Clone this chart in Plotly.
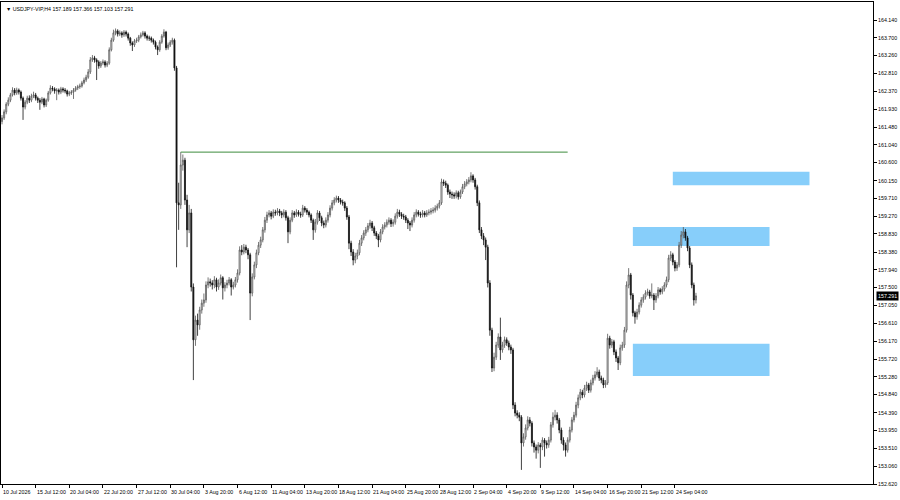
import plotly.graph_objects as go

# ---------------- data (USDJPY-VIP, H4) ----------------
opens = [
161.62,161.71,161.86,162.05,162.15,162.28,162.40,162.33,162.40,162.35,
162.20,161.98,162.10,162.20,162.15,162.25,162.28,162.20,162.15,162.10,
162.18,162.03,162.15,162.33,162.45,162.43,162.38,162.40,162.35,162.43,
162.40,162.38,162.30,162.33,162.35,162.40,162.45,162.48,162.50,162.58,
162.65,162.72,162.85,163.15,163.20,163.15,163.10,163.00,163.07,163.10,
163.02,163.07,163.40,163.64,163.82,163.87,163.79,163.82,163.77,163.84,
163.79,163.69,163.57,163.52,163.62,163.64,163.72,163.77,163.82,163.74,
163.69,163.69,163.64,163.59,163.47,163.40,163.59,163.74,163.84,163.45,
163.52,163.59,163.64,162.95,159.60,159.55,160.54,160.66,159.67,158.93,
159.35,157.51,156.20,156.69,156.57,156.94,157.11,157.19,157.56,157.64,
157.61,157.56,157.69,157.51,157.61,157.74,157.49,157.56,157.61,157.69,
157.51,157.56,157.69,157.86,158.43,158.38,158.50,158.43,158.31,157.36,
157.76,158.06,158.36,158.55,158.68,158.93,159.17,159.30,159.35,159.27,
159.37,159.35,159.40,159.35,159.30,159.37,159.23,158.88,159.17,159.35,
159.30,159.37,159.32,159.30,159.47,159.42,159.37,159.30,159.17,158.93,
159.12,159.35,159.23,159.10,159.05,159.17,159.30,159.47,159.60,159.67,
159.72,159.67,159.62,159.60,159.47,159.25,158.60,158.38,158.18,158.28,
158.36,158.60,158.73,158.85,158.93,159.03,159.10,158.98,158.85,158.78,
158.68,158.88,159.00,159.05,159.12,159.17,159.08,159.12,159.27,159.37,
159.32,159.27,159.25,159.17,159.10,159.05,159.17,159.30,159.37,159.32,
159.30,159.35,159.30,159.35,159.37,159.40,159.42,159.47,159.52,159.60,
160.12,160.09,160.04,159.87,159.82,159.80,159.77,159.85,159.75,159.87,
160.00,160.07,160.12,160.17,160.27,160.17,160.00,159.60,158.93,158.78,
158.68,158.50,157.61,156.44,155.50,155.77,156.07,156.27,155.95,156.07,
156.20,156.12,156.02,155.95,154.58,154.38,154.33,154.28,153.64,153.79,
154.01,154.21,154.13,153.64,153.54,153.46,153.59,153.54,153.71,153.64,
153.59,153.71,154.09,154.28,154.33,154.21,153.96,153.71,153.59,153.46,
153.71,153.96,154.21,154.33,154.58,154.76,154.90,154.83,155.00,155.08,
154.95,155.13,155.25,155.33,155.40,155.25,155.20,155.08,155.13,156.24,
156.07,156.15,155.90,155.75,155.63,156.00,156.07,156.44,157.56,157.81,
157.31,156.87,156.77,156.89,157.06,157.19,157.26,157.36,157.39,157.29,
157.31,157.19,157.29,157.44,157.39,157.46,157.56,157.69,158.23,158.31,
158.13,157.98,158.06,158.55,158.80,158.88,158.73,158.48,158.06,157.56,
157.189]

highs = [
161.78,161.92,162.10,162.22,162.33,162.47,162.45,162.46,162.44,162.39,
162.24,162.15,162.26,162.27,162.31,162.36,162.33,162.24,162.20,162.23,
162.21,162.19,162.38,162.52,162.50,162.47,162.45,162.44,162.48,162.47,
162.45,162.41,162.38,162.40,162.45,162.50,162.53,162.56,162.63,162.71,
162.78,162.92,163.22,163.27,163.25,163.19,163.14,163.12,163.16,163.14,
163.12,163.46,163.70,163.90,163.93,163.91,163.88,163.86,163.89,163.88,
163.83,163.72,163.61,163.67,163.70,163.77,163.83,163.87,163.86,163.78,
163.75,163.73,163.68,163.63,163.51,163.64,163.79,163.91,163.87,163.58,
163.64,163.70,163.68,163.00,160.10,160.86,160.80,160.72,159.80,159.55,
159.45,157.60,156.80,156.85,157.02,157.20,157.35,157.65,157.75,157.72,
157.68,157.78,157.74,157.70,157.82,157.78,157.63,157.69,157.76,157.73,
157.64,157.76,157.95,158.52,158.55,158.58,158.56,158.48,158.36,157.85,
158.14,158.44,158.63,158.76,159.00,159.25,159.38,159.42,159.40,159.44,
159.43,159.47,159.45,159.40,159.44,159.42,159.28,159.24,159.42,159.40,
159.44,159.42,159.38,159.55,159.52,159.47,159.41,159.34,159.21,159.20,
159.42,159.40,159.28,159.16,159.24,159.37,159.54,159.67,159.74,159.78,
159.77,159.72,159.68,159.64,159.52,159.30,158.66,158.45,158.36,158.44,
158.68,158.80,158.92,159.00,159.10,159.18,159.15,159.03,158.90,158.83,
158.95,159.07,159.12,159.19,159.24,159.22,159.19,159.34,159.45,159.43,
159.37,159.33,159.30,159.22,159.15,159.24,159.37,159.44,159.42,159.38,
159.42,159.40,159.42,159.44,159.47,159.49,159.54,159.58,159.67,160.20,
160.18,160.15,160.08,159.93,159.88,159.86,159.91,159.90,159.93,160.07,
160.14,160.19,160.24,160.36,160.31,160.22,160.05,159.66,159.00,158.85,
158.74,158.56,157.68,156.50,155.88,156.15,156.36,156.75,156.15,156.28,
156.26,156.18,156.08,156.00,154.65,154.45,154.40,154.33,153.88,154.10,
154.30,154.28,154.18,153.70,153.60,153.66,153.64,153.78,153.76,153.70,
153.79,154.16,154.40,154.46,154.40,154.26,154.02,153.78,153.65,153.78,
154.04,154.28,154.41,154.66,154.84,154.98,154.96,155.08,155.16,155.13,
155.21,155.33,155.42,155.52,155.46,155.31,155.26,155.20,156.35,156.30,
156.22,156.20,155.96,155.80,156.08,156.15,156.52,157.65,157.98,157.86,
157.36,156.92,156.97,157.13,157.26,157.33,157.43,157.47,157.44,157.60,
157.36,157.36,157.51,157.49,157.53,157.63,157.77,158.31,158.40,158.36,
158.18,158.13,158.63,158.90,159.00,158.95,158.78,158.53,158.12,157.62,
157.366]

lows = [
161.55,161.66,161.80,162.00,162.10,162.24,162.27,162.28,162.29,162.14,
161.66,161.92,162.05,162.08,162.10,162.20,162.14,162.08,161.91,162.05,
161.97,161.98,162.11,162.29,162.37,162.31,162.15,162.29,162.30,162.34,
162.32,162.24,162.25,162.28,162.18,162.36,162.40,162.43,162.46,162.54,
162.60,162.68,162.80,163.10,163.08,162.65,162.93,162.95,163.02,162.96,
162.97,163.03,163.36,163.60,163.76,163.73,163.74,163.70,163.72,163.73,
163.63,163.50,163.37,163.47,163.57,163.59,163.68,163.73,163.68,163.63,
163.62,163.58,163.53,163.41,163.27,163.35,163.55,163.70,163.39,163.40,
163.47,163.53,162.88,158.00,158.93,159.45,160.40,159.55,158.50,158.85,
157.40,155.20,156.05,156.30,156.45,156.85,157.02,157.12,157.48,157.52,
157.45,157.48,157.40,157.44,157.55,157.20,157.40,157.48,157.55,157.30,
157.45,157.50,157.62,157.80,158.30,158.32,158.35,158.20,156.69,157.28,
157.70,157.98,158.30,158.48,158.62,158.86,159.10,159.24,159.19,159.22,
159.28,159.29,159.27,159.22,159.24,159.16,158.60,158.82,159.12,159.23,
159.25,159.26,159.23,159.25,159.36,159.30,159.24,159.10,158.68,158.86,
159.06,159.15,159.02,158.97,158.99,159.11,159.24,159.41,159.54,159.61,
159.60,159.56,159.53,159.40,159.18,158.45,158.28,158.05,158.10,158.20,
158.30,158.53,158.67,158.78,158.87,158.96,158.90,158.78,158.70,158.50,
158.62,158.82,158.94,158.99,159.06,159.00,159.01,159.06,159.21,159.25,
159.20,159.18,159.10,158.95,158.90,158.99,159.11,159.24,159.26,159.23,
159.24,159.24,159.25,159.29,159.31,159.34,159.36,159.41,159.46,159.55,
160.02,159.97,159.80,159.72,159.70,159.70,159.71,159.68,159.70,159.82,
159.94,160.01,160.06,160.11,160.10,159.93,159.52,158.85,158.70,158.55,
158.18,157.50,156.30,155.40,155.42,155.70,156.00,155.70,155.88,156.00,
156.05,155.94,155.85,154.48,154.30,154.25,154.18,152.97,153.55,153.72,
153.95,154.05,153.55,153.40,153.25,153.38,153.02,153.46,153.30,153.50,
153.52,153.65,154.02,154.20,154.12,153.88,153.62,153.45,153.30,153.40,
153.65,153.90,154.15,154.27,154.50,154.70,154.75,154.77,154.93,154.88,
154.89,155.07,155.19,155.27,155.18,155.12,155.00,155.01,155.08,155.98,
156.00,155.82,155.65,155.45,155.57,155.93,156.00,156.38,157.48,157.20,
156.78,156.60,156.70,156.83,157.00,157.12,157.20,157.30,157.22,157.23,
156.94,157.12,157.23,157.32,157.33,157.40,157.50,157.63,158.16,158.05,
157.90,157.91,158.00,158.48,158.72,158.66,158.40,157.98,157.48,157.05,
157.103]

closes = [
161.71,161.86,162.05,162.15,162.28,162.40,162.33,162.40,162.35,162.20,
161.98,162.10,162.20,162.15,162.25,162.28,162.20,162.15,162.10,162.18,
162.03,162.15,162.33,162.45,162.43,162.38,162.40,162.35,162.43,162.40,
162.38,162.30,162.33,162.35,162.40,162.45,162.48,162.50,162.58,162.65,
162.72,162.85,163.15,163.20,163.15,163.10,163.00,163.07,163.10,163.02,
163.07,163.40,163.64,163.82,163.87,163.79,163.82,163.77,163.84,163.79,
163.69,163.57,163.52,163.62,163.64,163.72,163.77,163.82,163.74,163.69,
163.69,163.64,163.59,163.47,163.40,163.59,163.74,163.84,163.45,163.52,
163.59,163.64,162.95,159.60,159.55,160.54,160.66,159.67,158.93,159.35,
157.51,156.20,156.69,156.57,156.94,157.11,157.19,157.56,157.64,157.61,
157.56,157.69,157.51,157.61,157.74,157.49,157.56,157.61,157.69,157.51,
157.56,157.69,157.86,158.43,158.38,158.50,158.43,158.31,157.36,157.76,
158.06,158.36,158.55,158.68,158.93,159.17,159.30,159.35,159.27,159.37,
159.35,159.40,159.35,159.30,159.37,159.23,158.88,159.17,159.35,159.30,
159.37,159.32,159.30,159.47,159.42,159.37,159.30,159.17,158.93,159.12,
159.35,159.23,159.10,159.05,159.17,159.30,159.47,159.60,159.67,159.72,
159.67,159.62,159.60,159.47,159.25,158.60,158.38,158.18,158.28,158.36,
158.60,158.73,158.85,158.93,159.03,159.10,158.98,158.85,158.78,158.68,
158.88,159.00,159.05,159.12,159.17,159.08,159.12,159.27,159.37,159.32,
159.27,159.25,159.17,159.10,159.05,159.17,159.30,159.37,159.32,159.30,
159.35,159.30,159.35,159.37,159.40,159.42,159.47,159.52,159.60,160.12,
160.09,160.04,159.87,159.82,159.80,159.77,159.85,159.75,159.87,160.00,
160.07,160.12,160.17,160.27,160.17,160.00,159.60,158.93,158.78,158.68,
158.50,157.61,156.44,155.50,155.77,156.07,156.27,155.95,156.07,156.20,
156.12,156.02,155.95,154.58,154.38,154.33,154.28,153.64,153.79,154.01,
154.21,154.13,153.64,153.54,153.46,153.59,153.54,153.71,153.64,153.59,
153.71,154.09,154.28,154.33,154.21,153.96,153.71,153.59,153.46,153.71,
153.96,154.21,154.33,154.58,154.76,154.90,154.83,155.00,155.08,154.95,
155.13,155.25,155.33,155.40,155.25,155.20,155.08,155.13,156.24,156.07,
156.15,155.90,155.75,155.63,156.00,156.07,156.44,157.56,157.81,157.31,
156.87,156.77,156.89,157.06,157.19,157.26,157.36,157.39,157.29,157.31,
157.19,157.29,157.44,157.39,157.46,157.56,157.69,158.23,158.31,158.13,
157.98,158.06,158.55,158.80,158.88,158.73,158.48,158.06,157.56,157.189,
157.291]

# time-axis labels, one every 16 H4 bars
x_labels = ["10 Jul 2026", "15 Jul 12:00", "20 Jul 04:00", "22 Jul 20:00", "27 Jul 12:00",
            "30 Jul 04:00", "3 Aug 20:00", "6 Aug 12:00", "11 Aug 04:00", "13 Aug 20:00",
            "18 Aug 12:00", "21 Aug 04:00", "25 Aug 20:00", "28 Aug 12:00", "2 Sep 04:00",
            "4 Sep 20:00", "9 Sep 12:00", "14 Sep 04:00", "16 Sep 20:00", "21 Sep 12:00",
            "24 Sep 04:00"]
x_label_step = 16

y_ticks = [164.140, 163.700, 163.260, 162.810, 162.370, 161.930, 161.480, 161.040,
           160.600, 160.150, 159.710, 159.270, 158.830, 158.380, 157.940, 157.500,
           157.050, 156.610, 156.170, 155.720, 155.280, 154.840, 154.390, 153.950,
           153.510, 153.060, 152.620]

# zones: (start bar, end bar, low price, high price)
zone_start = [319, 300, 300]
zone_end = [384, 365, 365]
zone_low = [160.04, 158.53, 155.30]
zone_high = [160.37, 159.00, 156.10]

# horizontal level from the rebound high
level_start, level_end, level_price = 85, 269, 160.86

symbol = "USDJPY-VIP,H4"

# ---------------- figure ----------------
n = len(closes)
idx = list(range(n))

fig = go.Figure()
fig.add_trace(go.Candlestick(
    x=idx, open=opens, high=highs, low=lows, close=closes,
    increasing=dict(line=dict(color="#555555", width=0.8), fillcolor="#ffffff"),
    decreasing=dict(line=dict(color="#111111", width=0.8), fillcolor="#111111"),
    whiskerwidth=0, hoverinfo="skip", showlegend=False,
))

shapes = []
for s, e, lo, hi in zip(zone_start, zone_end, zone_low, zone_high):
    shapes.append(dict(type="rect", xref="x", yref="y", x0=s, x1=e, y0=lo, y1=hi,
                       fillcolor="#87CEFA", line=dict(width=0), layer="below"))
shapes.append(dict(type="line", xref="x", yref="y", x0=level_start, x1=level_end,
                   y0=level_price, y1=level_price, line=dict(color="#3d8c3d", width=1)))

FONT = "Liberation Sans, Arial, sans-serif"
font_small = dict(family=FONT, size=5.3, color="#000000")

annotations = []
tick_pos = [k * x_label_step for k in range(len(x_labels))]
for p, lab in zip(tick_pos, x_labels):
    annotations.append(dict(x=p, y=0, xref="x", yref="paper", text=lab, showarrow=False,
                            xanchor="left", yanchor="top", xshift=-1, yshift=-3,
                            font=font_small))

last = closes[-1]
title_text = "\u25BC " + symbol + " " + " ".join(
    f"{v:.3f}" for v in (opens[-1], highs[-1], lows[-1], closes[-1]))
annotations.append(dict(x=0, y=1, xref="paper", yref="paper", text=title_text,
                        showarrow=False, xanchor="left", yanchor="top", xshift=3, yshift=-2,
                        font=font_small))
annotations.append(dict(x=1, y=last, xref="paper", yref="y", text=f"{last:.3f}",
                        showarrow=False, xanchor="left", yanchor="middle", xshift=3,
                        bgcolor="#000000", borderpad=1,
                        font=dict(family=FONT, size=5.3, color="#ffffff")))

fig.update_layout(
    width=900, height=500,
    margin=dict(l=1, r=27, t=2, b=16),
    paper_bgcolor="#ffffff", plot_bgcolor="#ffffff",
    shapes=shapes, annotations=annotations,
    showlegend=False, hovermode=False,
    xaxis=dict(range=[-0.48, 414.2], rangeslider=dict(visible=False),
               showgrid=False, zeroline=False,
               tickvals=tick_pos, showticklabels=False, ticks="outside",
               ticklen=3, tickcolor="#000000",
               showline=True, linecolor="#000000", linewidth=1, mirror=True),
    yaxis=dict(range=[152.62, 164.587], side="right", showgrid=False, zeroline=False,
               automargin=False,
               tickvals=y_ticks, ticktext=[f"{v:.3f}" for v in y_ticks],
               ticks="outside", ticklen=3, tickcolor="#000000",
               tickfont=font_small,
               showline=True, linecolor="#000000", linewidth=1, mirror=True),
)

fig.write_html("out.html", config={"displayModeBar": False},
               post_script="document.body.style.margin='0';document.body.style.padding='0';")
